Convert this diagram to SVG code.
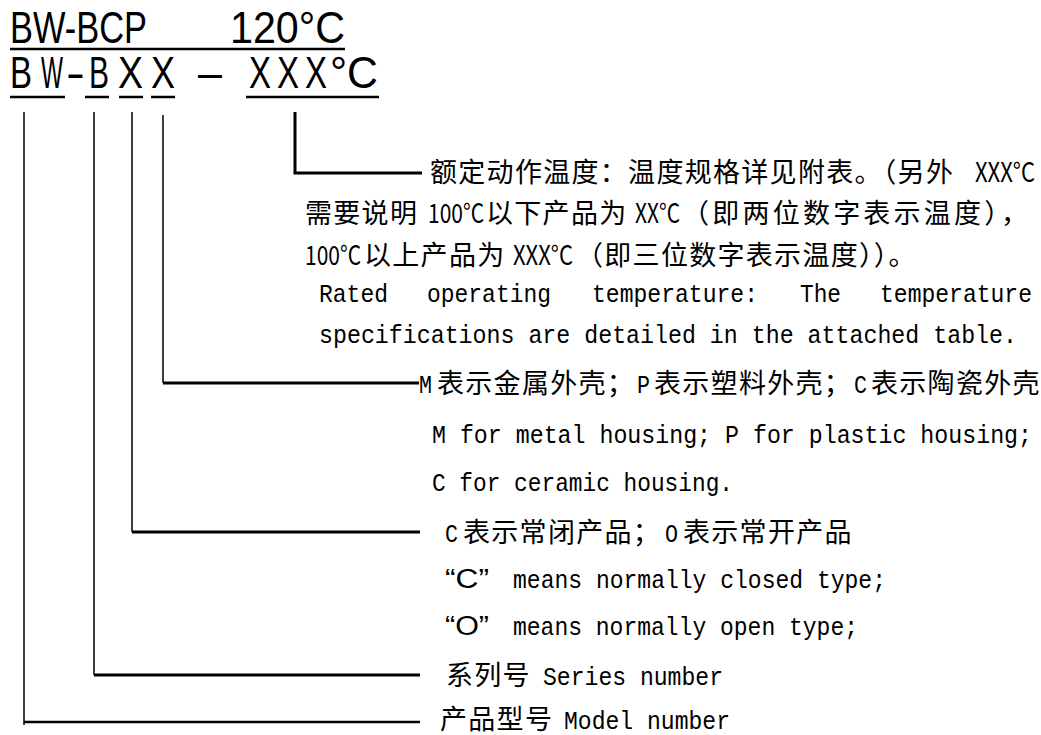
<svg xmlns="http://www.w3.org/2000/svg" width="1041" height="735" viewBox="0 0 1041 735">
<style>
.t{font-family:"Liberation Sans",Arial,sans-serif;font-size:45px;fill:#000}
.c{font-family:"Noto Sans CJK SC","Noto Sans",sans-serif;font-size:27px;letter-spacing:1.3px;fill:#000}
.a{font-family:"Noto Sans CJK SC","Noto Sans",sans-serif;font-size:27px;fill:#000}
.m{font-family:"Liberation Mono","DejaVu Sans Mono",monospace;font-size:26px;fill:#000}
.q{font-family:"Liberation Sans",Arial,sans-serif;font-size:27px;fill:#000}
.thin{stroke:#000;stroke-width:1.5;fill:none}
.thick{stroke:#000;stroke-width:3;fill:none}
.ul{stroke:#000;stroke-width:2.5;fill:none}
</style>
<rect width="1041" height="735" fill="#fff"/>
<g id="code">
  <text class="t" x="10" y="43" textLength="137" lengthAdjust="spacingAndGlyphs">BW-BCP</text>
  <text class="t" x="230" y="43" textLength="115" lengthAdjust="spacingAndGlyphs">120°C</text>
  <line class="ul" x1="10" y1="49" x2="345" y2="49"/>
  <text class="t" x="10" y="88" textLength="22" lengthAdjust="spacingAndGlyphs">B</text>
  <text class="t" x="41" y="88" textLength="22" lengthAdjust="spacingAndGlyphs">W</text>
  <text class="t" x="66" y="88" textLength="19" lengthAdjust="spacingAndGlyphs">-</text>
  <text class="t" x="89" y="88" textLength="20" lengthAdjust="spacingAndGlyphs">B</text>
  <text class="t" x="118" y="88" textLength="25" lengthAdjust="spacingAndGlyphs">X</text>
  <text class="t" x="151" y="88" textLength="24" lengthAdjust="spacingAndGlyphs">X</text>
  <text class="t" x="198" y="88" textLength="24" lengthAdjust="spacingAndGlyphs">–</text>
  <text class="t" x="249" y="88" textLength="22" lengthAdjust="spacingAndGlyphs">X</text>
  <text class="t" x="277" y="88" textLength="22" lengthAdjust="spacingAndGlyphs">X</text>
  <text class="t" x="305" y="88" textLength="22" lengthAdjust="spacingAndGlyphs">X</text>
  <text class="t" x="330" y="88" textLength="48" lengthAdjust="spacingAndGlyphs">°C</text>
  <line class="ul" x1="10" y1="97" x2="65" y2="97"/>
  <line class="ul" x1="85" y1="97" x2="109" y2="97"/>
  <line class="ul" x1="119" y1="97" x2="143" y2="97"/>
  <line class="ul" x1="151" y1="97" x2="175" y2="97"/>
  <line class="ul" x1="246" y1="97" x2="379" y2="97"/>
</g>
<g id="connectors">
  <polyline class="thick" points="295,112 295,173 422,173"/>
  <line class="thin" x1="163" y1="115" x2="163" y2="383"/>
  <line class="thick" x1="163" y1="383" x2="419" y2="383"/>
  <line class="thin" x1="132" y1="112" x2="132" y2="532"/>
  <line class="thick" x1="132" y1="532" x2="420" y2="532"/>
  <line class="thin" x1="94" y1="112" x2="94" y2="675"/>
  <line class="thick" x1="94" y1="675" x2="420" y2="675"/>
  <line class="thin" x1="24" y1="112" x2="24" y2="725"/>
  <line class="ul" x1="24" y1="722" x2="420" y2="722"/>
</g>
<g id="temperature">
  <text class="c" x="430" y="182">额定动作温度：温度规格详见附表。（另外</text>
  <text class="a" x="975" y="182" textLength="60" lengthAdjust="spacingAndGlyphs">XXX°C</text>
  <text class="c" x="305" y="223">需要说明</text>
  <text class="a" x="428" y="223" textLength="56" lengthAdjust="spacingAndGlyphs">100°C</text>
  <text class="c" x="486" y="223">以下产品为</text>
  <text class="a" x="635" y="223" textLength="45" lengthAdjust="spacingAndGlyphs">XX°C</text>
  <text class="a" x="682" y="223" textLength="346" lengthAdjust="spacing">（即两位数字表示温度），</text>
  <text class="a" x="305" y="265" textLength="56" lengthAdjust="spacingAndGlyphs">100°C</text>
  <text class="c" x="364" y="265">以上产品为</text>
  <text class="a" x="513" y="265" textLength="60" lengthAdjust="spacingAndGlyphs">XXX°C</text>
  <text class="c" x="576" y="265">（即三位数字表示温度））。</text>
  <text class="m" x="319" y="302" textLength="69" lengthAdjust="spacingAndGlyphs">Rated</text>
  <text class="m" x="427" y="302" textLength="124" lengthAdjust="spacingAndGlyphs">operating</text>
  <text class="m" x="592" y="302" textLength="166" lengthAdjust="spacingAndGlyphs">temperature:</text>
  <text class="m" x="800" y="302" textLength="41" lengthAdjust="spacingAndGlyphs">The</text>
  <text class="m" x="880" y="302" textLength="152" lengthAdjust="spacingAndGlyphs">temperature</text>
  <text class="m" x="319" y="343" textLength="698" lengthAdjust="spacingAndGlyphs">specifications are detailed in the attached table.</text>
</g>
<g id="housing">
  <text class="m" x="419" y="393" textLength="13" lengthAdjust="spacingAndGlyphs">M</text>
  <text class="c" x="437" y="393">表示金属外壳；</text>
  <text class="m" x="637" y="393" textLength="13" lengthAdjust="spacingAndGlyphs">P</text>
  <text class="c" x="654" y="393">表示塑料外壳；</text>
  <text class="m" x="854" y="393" textLength="13" lengthAdjust="spacingAndGlyphs">C</text>
  <text class="c" x="871" y="393">表示陶瓷外壳</text>
  <text class="m" x="432" y="443" textLength="600" lengthAdjust="spacingAndGlyphs">M for metal housing; P for plastic housing;</text>
  <text class="m" x="432" y="491" textLength="301" lengthAdjust="spacingAndGlyphs">C for ceramic housing.</text>
</g>
<g id="contact">
  <text class="m" x="445" y="542" textLength="13" lengthAdjust="spacingAndGlyphs">C</text>
  <text class="c" x="463" y="542">表示常闭产品；</text>
  <text class="m" x="665" y="542" textLength="13" lengthAdjust="spacingAndGlyphs">O</text>
  <text class="c" x="683" y="542">表示常开产品</text>
  <text class="q" x="445" y="588" textLength="44" lengthAdjust="spacingAndGlyphs">“C”</text>
  <text class="m" x="513" y="588" textLength="373" lengthAdjust="spacingAndGlyphs">means normally closed type;</text>
  <text class="q" x="445" y="635" textLength="44" lengthAdjust="spacingAndGlyphs">“O”</text>
  <text class="m" x="513" y="635" textLength="345" lengthAdjust="spacingAndGlyphs">means normally open type;</text>
</g>
<g id="series">
  <text class="c" x="446" y="685">系列号</text>
  <text class="m" x="543" y="685" textLength="180" lengthAdjust="spacingAndGlyphs">Series number</text>
</g>
<g id="model">
  <text class="c" x="440" y="729">产品型号</text>
  <text class="m" x="564" y="729" textLength="166" lengthAdjust="spacingAndGlyphs">Model number</text>
</g>
</svg>
